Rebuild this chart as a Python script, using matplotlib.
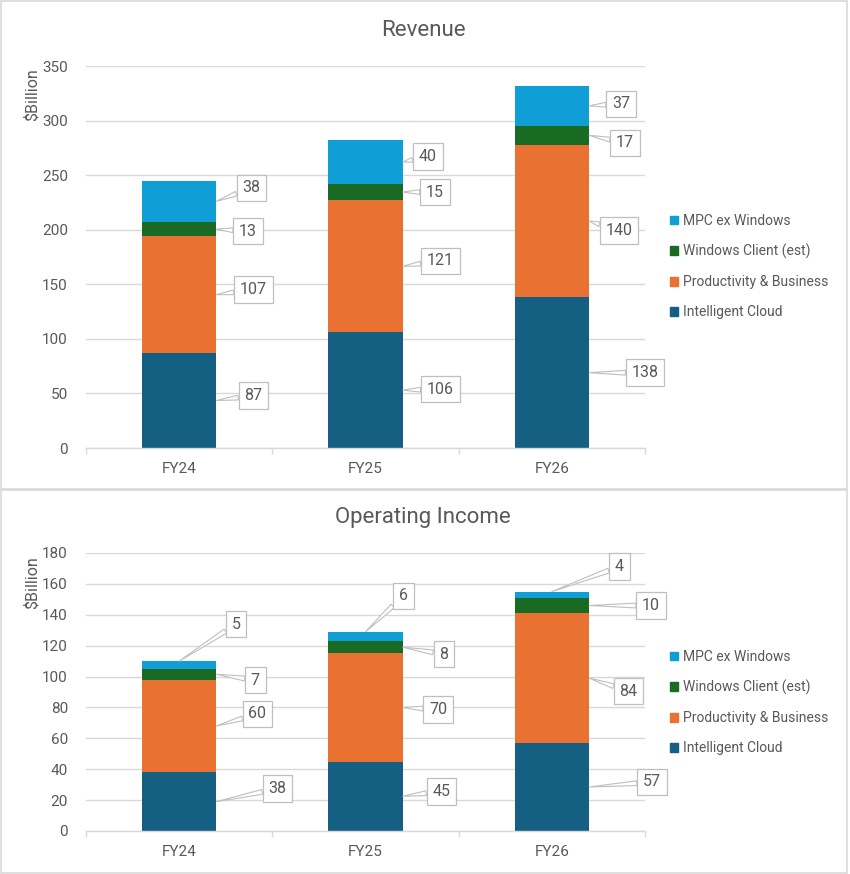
import matplotlib
matplotlib.use("Agg")
import matplotlib.pyplot as plt
from matplotlib.patches import Rectangle, Patch
import numpy as np

plt.rcParams['font.family'] = ['Roboto', 'DejaVu Sans']

# ---------------- data ----------------
categories = ["FY24", "FY25", "FY26"]
series_names = ["Intelligent Cloud", "Productivity & Business",
                "Windows Client (est)", "MPC ex Windows"]
colors = ["#156082", "#E97132", "#196B24", "#0F9ED5"]

revenue_ic = [87, 106, 138]
revenue_pb = [107, 121, 140]
revenue_wc = [13, 15, 17]
revenue_mpc = [38, 40, 37]

opinc_ic = [38, 45, 57]
opinc_pb = [60, 70, 84]
opinc_wc = [7, 8, 10]
opinc_mpc = [5, 6, 4]

# label box offsets (pixels, dx right / dy up) from anchor point
rev_offsets = [
    [(37, 5), (37.5, 1), (56, 0)],
    [(37, 5), (37.5, 5.5), (30, -9.5)],
    [(31.7, -2), (32, 0), (36, -7.5)],
    [(35, 13.5), (25, 5.5), (32, 2)],
]
rev_anchor = ["edge", "edge", "edge", "edge"]
op_offsets = [
    [(61, 13), (38.5, 5), (63, 5)],
    [(41, 12), (35.5, -2), (39.5, -13)],
    [(39, -6), (41, -7), (62, 0)],
    [(57, 37), (38, 36), (67.5, 25)],
]
op_anchor = ["edge", "edge", "edge", "top"]

W, H = 850, 874
fig = plt.figure(figsize=(W / 100, H / 100), dpi=100)
fig.patch.set_facecolor("white")

def fx(px):
    return px / W

def fy(py):
    return 1 - py / H

TXT = "#595959"
GRID = "#d9d9d9"

# panel borders
for (x0, y0, x1, y1) in [(0.5, 1.5, 846.5, 488.5), (0.5, 490.5, 846.5, 872.5)]:
    fig.patches.append(Rectangle((fx(x0), fy(y1)), fx(x1) - fx(x0), fy(y0) - fy(y1),
                                 transform=fig.transFigure, fill=False,
                                 edgecolor=GRID, lw=1.2, zorder=0))


def draw_chart(top_px, bot_px, title, title_y, series, ymax, ystep,
               offsets, anchors, legend_y, ylabel_top):
    ax = fig.add_axes([fx(86), fy(bot_px), fx(645) - fx(86), fy(top_px) - fy(bot_px)])
    x = np.arange(len(categories))
    width = 0.4
    bottom = np.zeros(len(categories))
    handles = []
    for i, (vals, name, col) in enumerate(zip(series, series_names, colors)):
        vals = np.array(vals, dtype=float)
        ax.bar(x, vals, width, bottom=bottom, color=col, zorder=3, linewidth=0)
        handles.append(Patch(facecolor=col, edgecolor=col, label=name))
        for j in range(len(categories)):
            if anchors[i] == "edge":
                xy = (x[j] + width / 2, bottom[j] + vals[j] / 2)
            else:
                xy = (x[j], bottom[j] + vals[j])
            dx, dy = offsets[i][j]
            ax.annotate(f"{int(vals[j])}", xy=xy, xytext=(dx, dy),
                        textcoords="offset pixels", ha="center", va="center",
                        fontsize=11.5, color=TXT, zorder=6,
                        bbox=dict(boxstyle="square,pad=0.36", fc="white",
                                  ec="#bfbfbf", lw=0.9),
                        arrowprops=dict(arrowstyle="wedge,tail_width=0.3,shrink_factor=0.5",
                                        fc="white", ec="#bfbfbf", lw=0.8,
                                        shrinkA=0, shrinkB=0))
        bottom += vals

    ax.set_xlim(-0.5, len(categories) - 0.5)
    ax.set_ylim(0, ymax)
    ax.set_yticks(np.arange(0, ymax + 1, ystep))
    ax.set_xticks(x)
    ax.set_xticklabels(categories)
    ax.set_xticks(np.arange(-0.5, len(categories), 1.0), minor=True)
    ax.tick_params(axis="x", which="major", length=0, pad=10, labelsize=11, labelcolor=TXT)
    ax.tick_params(axis="x", which="minor", length=4, width=1, color=GRID, direction="out")
    ax.tick_params(axis="y", length=0, pad=13, labelsize=11, labelcolor=TXT)
    ax.grid(axis="y", color=GRID, lw=1, zorder=0)
    for s in ["top", "right", "left"]:
        ax.spines[s].set_visible(False)
    ax.spines["bottom"].set_color(GRID)
    ax.spines["bottom"].set_linewidth(1)
    ax.spines["bottom"].set_zorder(4)
    ax.set_axisbelow(True)

    fig.text(fx(423), fy(title_y), title, ha="center", va="center",
             fontsize=16, color=TXT)
    fig.text(fx(32), fy(ylabel_top), "$Billion", rotation=90, ha="center",
             va="top", fontsize=11.5, color=TXT)
    ax.legend(handles=handles[::-1], loc="center left",
              bbox_to_anchor=(fx(670), fy(legend_y)), bbox_transform=fig.transFigure,
              frameon=False, fontsize=10, labelcolor=TXT, handlelength=0.6,
              handleheight=0.6, handletextpad=0.35, labelspacing=1.15,
              borderpad=0, borderaxespad=0)
    return ax


draw_chart(66, 448, "Revenue", 30,
           [revenue_ic, revenue_pb, revenue_wc, revenue_mpc], 350, 50,
           rev_offsets, rev_anchor, 266.5, 68)
draw_chart(553, 831, "Operating Income", 517,
           [opinc_ic, opinc_pb, opinc_wc, opinc_mpc], 180, 20,
           op_offsets, op_anchor, 702.5, 556)

fig.savefig("out.png", dpi=100, facecolor="white")
